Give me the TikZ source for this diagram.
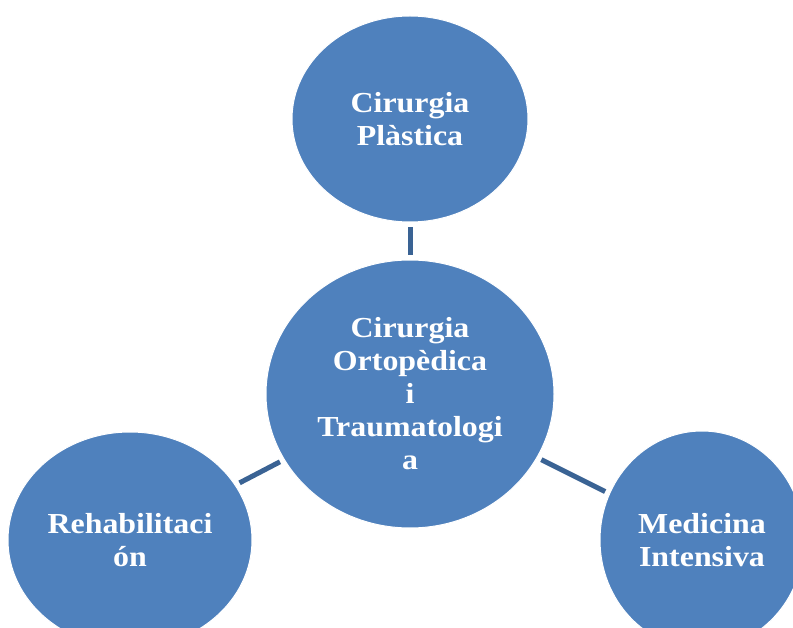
\documentclass[tikz,border=0pt]{standalone}
\usepackage{fontspec}
\setmainfont[FakeStretch=1.1]{Liberation Serif}
\usetikzlibrary{shapes.geometric}
\definecolor{fillblue}{RGB}{79,129,189}
\definecolor{lineblue}{RGB}{58,99,148}
\begin{document}
\begin{tikzpicture}[
    x=1pt, y=-1pt,
    areanode/.style={ellipse, fill=fillblue, draw=white, line width=1pt, inner sep=0pt, outer sep=0pt,
      text=white, align=center, font=\fontsize{29}{33}\selectfont\bfseries},
    link/.style={draw=lineblue, line width=5pt, shorten <=5pt, shorten >=5pt}
  ]
  \useasboundingbox (0,0) rectangle (793,628);

  %Nodes
  \node[areanode, minimum width=288pt, minimum height=268pt] at (410,394) (COT) {Cirurgia\\Ortopèdica\\i\\Traumatologi\\a};
  \node[areanode, minimum width=236pt, minimum height=206pt] at (410,119) (CP) {Cirurgia\\Plàstica};
  \node[areanode, minimum width=244pt, minimum height=216pt] at (130,540) (R) {Rehabilitaci\\ón};
  \node[areanode, minimum width=204pt, minimum height=218pt] at (702,540) (MI) {Medicina\\Intensiva};

  %Lines
  \draw[link] (COT) -- (CP);
  \draw[link] (COT) -- (R);
  \draw[link] (COT) -- (MI);

\end{tikzpicture}
\end{document}
